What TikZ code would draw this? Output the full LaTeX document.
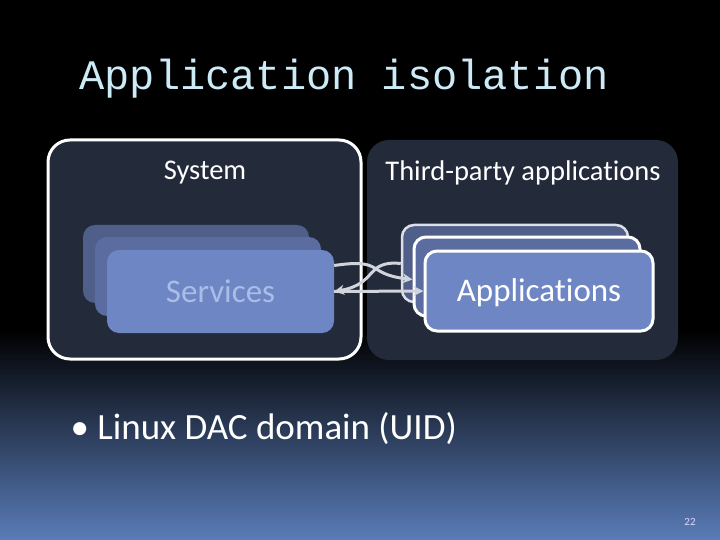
\documentclass[tikz,border=0pt]{standalone}
\usepackage{fontspec}
\setmainfont[Ligatures={NoCommon}]{Carlito}
\newfontfamily\titlefont{Liberation Mono}
\usetikzlibrary{arrows.meta,calc}
\definecolor{paneldark}{HTML}{232A3A}
\definecolor{boxback}{HTML}{4F5F8A}
\definecolor{boxmid}{HTML}{5B6DA0}
\definecolor{boxfront}{HTML}{6E87C4}
\definecolor{svctext}{HTML}{A9BDE8}
\definecolor{titlecol}{HTML}{CDEAF7}
\definecolor{arrowcol}{HTML}{D2D4DC}
\definecolor{slidebottom}{HTML}{5A7CB8}
\begin{document}
\begin{tikzpicture}[x=1pt,y=-1pt,
	panel/.style={fill=paneldark, rounded corners=22pt, inner sep=0pt},
	stack/.style={rounded corners=12pt, inner sep=0pt},
	link/.style={draw=arrowcol, line width=3pt, -{Stealth[length=10pt,width=10pt]}}]
	% slide background
	\fill[black] (0,0) rectangle (720,540);
	\shade[top color=black, bottom color=slidebottom] (0,330) rectangle (720,540);
	\useasboundingbox (0,0) rectangle (720,540);
	\node[anchor=base west, text=titlecol, font=\titlefont\fontsize{42}{46}\selectfont] (title) at (76,90) {Application isolation};
	% panels
	\node[panel, draw=white, line width=3pt, minimum width=313pt, minimum height=219pt] (sys) at (204.5,249.5) {};
	\node[panel, minimum width=311pt, minimum height=220pt] (tp) at (522.5,250) {};
	\node[text=white, font=\fontsize{28.5}{32}\selectfont] (syslabel) at (205,173) {System};
	\node[text=white, font=\fontsize{28.5}{32}\selectfont] (tplabel) at (523,173) {Third-party applications};
	% services
	\node[stack, fill=boxback, minimum width=226pt, minimum height=78pt] (svc3) at (196,264) {};
	\node[stack, fill=boxmid, minimum width=226pt, minimum height=79pt] (svc2) at (208,276.5) {};
	\node[stack, fill=boxfront, minimum width=227pt, minimum height=83pt, text=svctext, font=\fontsize{33}{36}\selectfont] (svc1) at (220.5,291.5) {Services};
	% applications
	\node[stack, fill=boxback, draw=white!80!boxback, line width=2.5pt, minimum width=226pt, minimum height=77pt] (app3) at (515,263.5) {};
	\node[stack, fill=boxmid, draw=white, line width=3pt, minimum width=226pt, minimum height=79pt] (app2) at (527,276.5) {};
	\node[stack, fill=boxfront, draw=white, line width=3pt, minimum width=228pt, minimum height=80pt] (app1) at (539,291) {};
	\node[text=white, font=\fontsize{33}{36}\selectfont] (applabel) at (539,293) {Applications};
	% connectors
	\coordinate (s1) at ([yshift=26pt]svc1.east);
	\coordinate (s2) at ([yshift=0pt]svc1.east);
	\coordinate (a3) at ([yshift=0pt]app3.west);
	\coordinate (a2) at ([yshift=-3pt]app2.west);
	\coordinate (a1) at ([yshift=0pt]app1.west);
	\draw[link] (s1) .. controls (385,258) and (365,274) .. (a2);
	\draw[link] (a3) .. controls (365,260) and (378,284) .. (s2);
	\draw[link] (s2) -- (a1);
	% bullet text
	\node[anchor=west, text=white, font=\fontsize{37}{40}\selectfont] (bullet) at (67,429) {\textbullet\ Linux DAC domain (UID)};
	\node[text=white!85!blue, font=\fontsize{11}{13}\selectfont] (pageno) at (690,522) {22};
\end{tikzpicture}
\end{document}
